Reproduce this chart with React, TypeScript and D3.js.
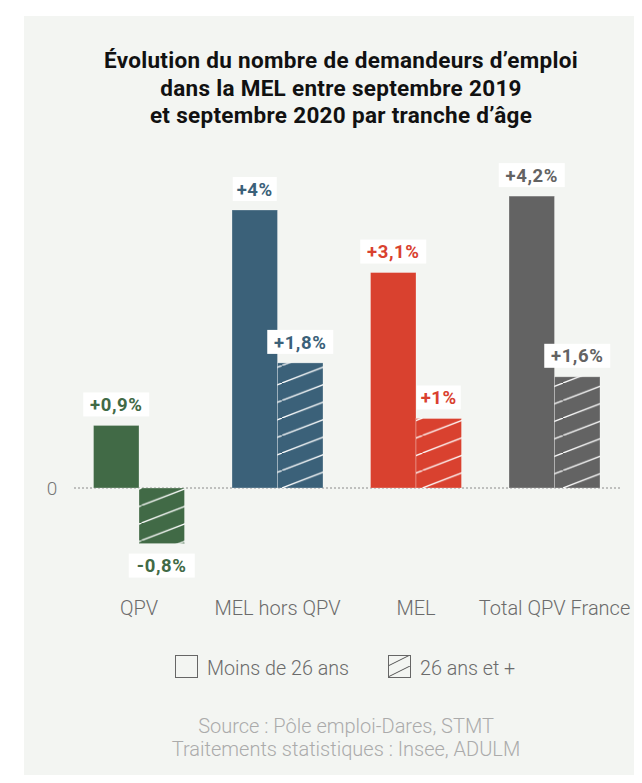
import * as d3 from 'd3';
import React from 'react';

// data
const categories = ['QPV', 'MEL hors QPV', 'MEL', 'Total QPV France'];
const under26 = [0.9, 4, 3.1, 4.2];
const over26 = [-0.8, 1.8, 1, 1.6];
const under26Labels = ['+0,9%', '+4%', '+3,1%', '+4,2%'];
const over26Labels = ['-0,8%', '+1,8%', '+1%', '+1,6%'];
const colors = ['#416a46', '#3b6179', '#d9412f', '#636363'];
const titleLines = [
  'Évolution du nombre de demandeurs d’emploi',
  'dans la MEL entre septembre 2019',
  'et septembre 2020 par tranche d’âge',
];
const legendLabels = ['Moins de 26 ans', '26 ans et +'];
const sourceLines = ['Source : Pôle emploi-Dares, STMT', 'Traitements statistiques : Insee, ADULM'];

const W = 642;
const H = 783;
const FONT = 'Roboto, sans-serif';

export default function App() {
  // Scales
  const x = d3.scaleBand()
    .domain(categories)
    .range([69.75, 623.75])
    .paddingInner(0.343)
    .paddingOuter(0.1715);
  const sub = d3.scaleBand()
    .domain(['a', 'b'])
    .range([0, x.bandwidth()]);
  const y = d3.scaleLinear()
    .domain([0, 4])
    .range([488, 210]);

  const y0 = y(0);
  const bw = sub.bandwidth();
  const hatchH = 17.5;

  // Rows for drawing
  const rows = categories.map((c, i) => ({
    cat: c,
    color: colors[i],
    bars: [
      { key: 'a', v: under26[i], label: under26Labels[i], hatch: false },
      { key: 'b', v: over26[i], label: over26Labels[i], hatch: true },
    ],
  }));

  return (
    <div style={{ margin: -8 }}>
      <svg width={W} height={H} style={{ display: 'block' }}>
        <rect x={0} y={0} width={W} height={H} fill="#fff" />
        <rect x={24} y={16} width={W - 24} height={H - 16} fill="#f3f5f2" />

        <defs>
          {rows.map((r, i) => r.bars.filter(b => b.hatch).map(b => (
            <pattern
              key={i}
              id={'hatch' + i}
              patternUnits="userSpaceOnUse"
              x={(x(r.cat) ?? 0) + (sub(b.key) ?? 0)}
              y={y0}
              width={bw}
              height={hatchH}
            >
              <rect width={bw} height={hatchH} fill={r.color} />
              <line x1={0} y1={hatchH} x2={bw} y2={0} stroke="#fff" strokeWidth={1.3} />
            </pattern>
          )))}
          <pattern id="hatchLegend" patternUnits="userSpaceOnUse" x={388} y={655} width={22} height={11}>
            <line x1={0} y1={11} x2={22} y2={0} stroke="#555" strokeWidth={1} />
          </pattern>
        </defs>

        {/* title */}
        <text
          x={341}
          textAnchor="middle"
          fontFamily={FONT}
          fontWeight={700}
          fontSize={22.5}
          fill="#111"
          letterSpacing={0.3}
        >
          {titleLines.map((t, i) => (
            <tspan key={i} x={341} y={68 + i * 27.5}>{t}</tspan>
          ))}
        </text>

        {/* zero line */}
        <line x1={74} x2={620} y1={y0} y2={y0} stroke="#8a8a8a" strokeWidth={1} strokeDasharray="2,2" />
        <text x={52} y={y0} dy="0.35em" textAnchor="middle" fontFamily={FONT} fontWeight={300} fontSize={19} fill="#777">0</text>

        {/* bars */}
        {rows.map((r, i) => (
          <g key={r.cat} transform={`translate(${x(r.cat)},0)`}>
            {r.bars.map(b => {
              const top = y(Math.max(0, b.v));
              const bottom = y(Math.min(0, b.v));
              const bx = sub(b.key) ?? 0;
              const cx = bx + bw / 2;
              const ly = b.v >= 0 ? top - 9 - 12 : bottom + 10 + 12;
              const boxW = b.label.length * 11 + 11;
              return (
                <g key={b.key}>
                  <rect
                    x={bx}
                    y={top}
                    width={bw}
                    height={bottom - top}
                    fill={b.hatch ? `url(#hatch${i})` : r.color}
                    stroke="rgba(255,255,255,0.35)"
                    strokeWidth={0.8}
                  />
                  <rect x={cx - boxW / 2} y={ly - 12} width={boxW} height={24} fill="#fff" />
                  <text
                    x={cx}
                    y={ly}
                    dy="0.36em"
                    textAnchor="middle"
                    fontFamily={FONT}
                    fontWeight={700}
                    fontSize={18.5}
                    letterSpacing={0.6}
                    fill={r.color}
                  >
                    {b.label}
                  </text>
                </g>
              );
            })}
            <text
              x={x.bandwidth() / 2}
              y={608}
              dy="0.35em"
              textAnchor="middle"
              fontFamily={FONT}
              fontWeight={300}
              fontSize={20}
              fill="#6b6b6b"
            >
              {r.cat}
            </text>
          </g>
        ))}

        {/* legend */}
        <rect x={175.5} y={655.5} width={22} height={22} fill="none" stroke="#666" strokeWidth={1} />
        <text x={207} y={668} dy="0.35em" fontFamily={FONT} fontWeight={300} fontSize={19.7} fill="#6b6b6b">{legendLabels[0]}</text>
        <rect x={388.5} y={655.5} width={22} height={22} fill="url(#hatchLegend)" stroke="#666" strokeWidth={1} />
        <text x={420} y={668} dy="0.35em" fontFamily={FONT} fontWeight={300} fontSize={19.7} fill="#6b6b6b">{legendLabels[1]}</text>

        {/* source */}
        {sourceLines.map((s, i) => (
          <text
            key={i}
            x={346}
            y={733 + i * 23}
            textAnchor="middle"
            fontFamily={FONT}
            fontWeight={300}
            fontSize={20}
            fill="#ababab"
          >
            {s}
          </text>
        ))}
      </svg>
    </div>
  );
}
